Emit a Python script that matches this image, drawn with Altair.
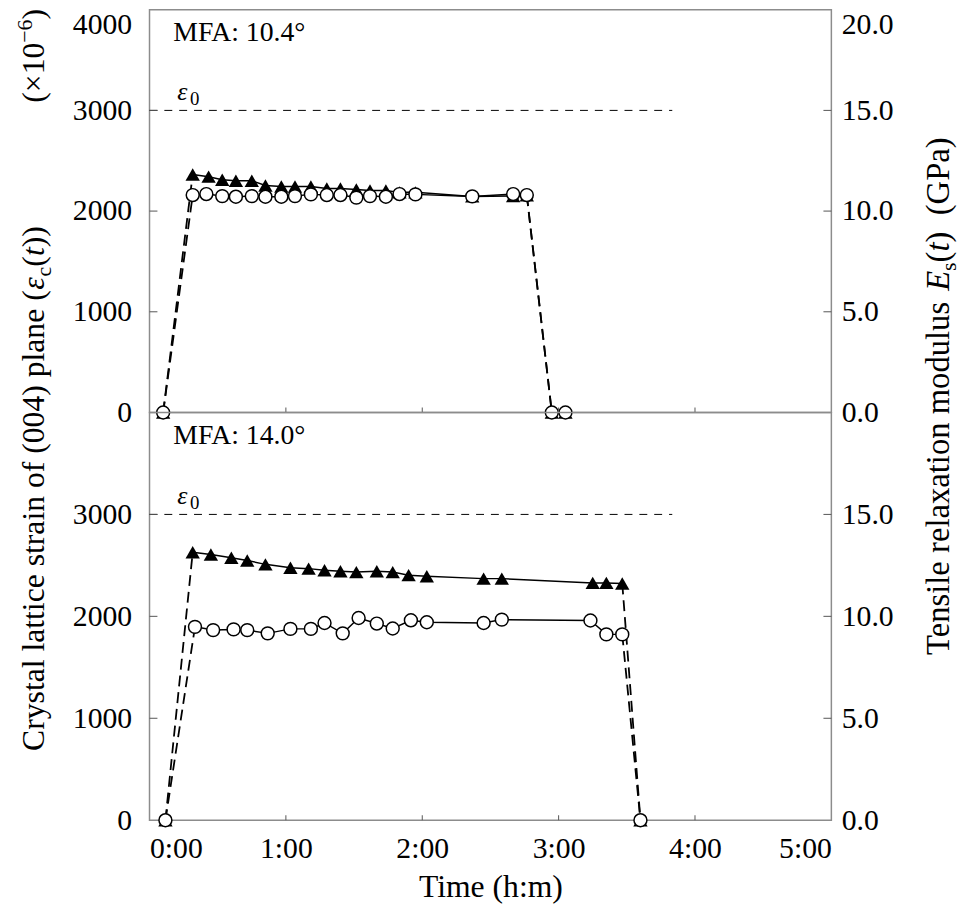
import altair as alt
import pandas as pd

FONT = "Liberation Serif"

# ---------------- data (time in minutes) ----------------
# upper panel, MFA 10.4 deg
top_tri_t = [19, 26, 32, 38, 45, 51, 58, 64, 71, 78, 84, 91, 97, 104, 110, 117, 142, 160, 166]
top_tri_E = [11.82, 11.71, 11.56, 11.51, 11.51, 11.27, 11.22, 11.22, 11.22, 11.12, 11.12,
             11.07, 11.02, 11.02, 10.93, 10.93, 10.73, 10.75, 10.78]          # GPa
top_cir_t = [19, 25, 32, 38, 45, 51, 58, 64, 71, 78, 84, 91, 97, 104, 110, 117, 142, 160, 166]
top_cir_s = [2159, 2169, 2149, 2143, 2149, 2143, 2143, 2149, 2166, 2159, 2159,
             2134, 2149, 2143, 2169, 2166, 2146, 2169, 2159]                    # x10^-6
top_zero_t = [6, 177, 183]

# lower panel, MFA 14.0 deg
bot_tri_t = [19, 27, 36, 43, 51, 62, 70, 77, 84, 91, 100, 107, 114, 122, 147, 155, 195, 201, 208]
bot_tri_E = [13.14, 13.03, 12.87, 12.74, 12.55, 12.38, 12.34, 12.26, 12.21, 12.17, 12.21,
             12.17, 12.02, 11.97, 11.85, 11.85, 11.64, 11.64, 11.61]
bot_cir_t = [20, 28, 37, 43, 52, 62, 71, 77, 85, 92, 100, 107, 115, 122, 147, 155, 194, 201, 208]
bot_cir_s = [1897, 1865, 1872, 1865, 1833, 1877, 1877, 1935, 1833, 1984, 1929,
             1881, 1961, 1942, 1935, 1968, 1959, 1823, 1823]
bot_zero_t = [7, 216]

eps0 = 3000
eps0_end_t = 230
mfa_labels = ["MFA: 10.4°", "MFA: 14.0°"]
x_ticks = [0, 60, 120, 180, 240, 300]
inner_x_ticks = [60, 120, 180, 240]
strain_ticks_top = [0, 1000, 2000, 3000, 4000]
strain_ticks_bot = [0, 1000, 2000, 3000]
modulus_ticks_top = [0, 5, 10, 15, 20]
modulus_ticks_bot = [0, 5, 10, 15]
inner_strain_ticks = [1000, 2000, 3000]

left_title = ["Crystal lattice strain of (004) plane (", "ε", "c", "(", "t", "))", "(×10", "−6", ")"]
right_title = ["Tensile relaxation modulus", "E", "s", "(", "t", ")", "(GPa)"]

W = 689
H_TOP, H_BOT = 407, 412
FRAME = "#8c8c8c"


def xenc(bottom):
    if bottom:
        ax = alt.Axis(values=x_ticks,
                      labelExpr="floor(datum.value/60) + ':' + (datum.value % 60 < 10 ? '0' : '') + (datum.value % 60)",
                      labelFlush=True, labelFont=FONT, labelFontSize=30, labelColor="black",
                      labelPadding=14, ticks=False, tickSize=0, domain=False, grid=False,
                      title="Time (h:m)", titleFont=FONT, titleFontSize=32,
                      titleFontWeight="normal", titleColor="black", titlePadding=8)
    else:
        ax = alt.Axis(values=x_ticks, labels=False, ticks=False, tickSize=0,
                      domain=False, grid=False, title=None)
    return alt.X("t:Q", scale=alt.Scale(domain=[0, 300], nice=False, zero=False), axis=ax)


def yleft(values, top):
    kw = {}
    if top:
        kw["labelBaseline"] = {"condition": {"test": "datum.value >= 4000", "value": "top"},
                               "value": "middle"}
    ax = alt.Axis(orient="left", values=values, format="d", labelFont=FONT, labelFontSize=30,
                  labelColor="black", labelPadding=18, ticks=False, tickSize=0,
                  domain=False, grid=False, title=None, **kw)
    return alt.Y("v:Q", scale=alt.Scale(domain=[0, 4000], nice=False), axis=ax)


def yright(values, top):
    kw = {}
    if top:
        kw["labelBaseline"] = {"condition": {"test": "datum.value >= 20", "value": "top"},
                               "value": "middle"}
    ax = alt.Axis(orient="right", values=values, format=".1f", labelFont=FONT, labelFontSize=30,
                  labelColor="black", labelPadding=10, ticks=False, tickSize=0,
                  domain=False, grid=False, title=None, **kw)
    return alt.Y("v:Q", scale=alt.Scale(domain=[0, 20], nice=False), axis=ax)


def seg(text, x, y, size, style="normal"):
    return alt.Chart(pd.DataFrame({"s": [text]})).mark_text(
        angle=270, align="left", baseline="alphabetic", font=FONT, fontSize=size,
        fontStyle=style, color="black").encode(x=alt.value(x), y=alt.value(y), text="s:N")


def panel(tri_t, tri_E, cir_t, cir_s, zero_t, mfa, top, H):
    bottom = not top
    X = xenc(bottom)
    yR = yright(modulus_ticks_top if top else modulus_ticks_bot, top)
    yL = yleft(strain_ticks_top if top else strain_ticks_bot, top)
    t_start, t_end = zero_t[0], zero_t[1]

    tri_line = pd.DataFrame({"t": tri_t, "v": tri_E})
    tri_ramp = pd.DataFrame({"t": [t_start, tri_t[0], tri_t[-1], t_end],
                             "v": [0, tri_E[0], tri_E[-1], 0], "seg": ["a", "a", "b", "b"]})
    tri_pts = pd.DataFrame({"t": tri_t + zero_t, "v": tri_E + [0] * len(zero_t)})

    cir_line = pd.DataFrame({"t": cir_t, "v": cir_s})
    cir_ramp = pd.DataFrame({"t": [t_start, cir_t[0], cir_t[-1], t_end],
                             "v": [0, cir_s[0], cir_s[-1], 0], "seg": ["a", "a", "b", "b"]})
    cir_pts = pd.DataFrame({"t": cir_t + zero_t, "v": cir_s + [0] * len(zero_t)})

    R = alt.layer(
        alt.Chart(tri_ramp).mark_line(color="black", strokeWidth=1.8, strokeDash=[11, 6]).encode(
            x=X, y=yR, detail="seg:N"),
        alt.Chart(tri_line).mark_line(color="black", strokeWidth=1.5).encode(x=X, y=yR),
        alt.Chart(tri_pts).mark_point(shape="triangle-up", filled=True, color="black",
                                      size=210, opacity=1).encode(x=X, y=yR),
    )

    layers = [
        alt.Chart(pd.DataFrame({"t": [0], "t2": [eps0_end_t], "v": [eps0]})).mark_rule(
            color="black", strokeWidth=1, strokeDash=[8, 7]).encode(x=X, x2="t2:Q", y=yL),
        alt.Chart(cir_ramp).mark_line(color="black", strokeWidth=1.8, strokeDash=[11, 6]).encode(
            x=X, y=yL, detail="seg:N"),
        alt.Chart(cir_line).mark_line(color="black", strokeWidth=1.5).encode(x=X, y=yL),
        alt.Chart(cir_pts).mark_point(shape="circle", filled=True, fill="white", stroke="black",
                                      strokeWidth=1.5, size=170, opacity=1).encode(x=X, y=yL),
        # inward ticks
        alt.Chart(pd.DataFrame({"t": inner_x_ticks})).mark_rule(color="#555", strokeWidth=1).encode(
            x=X, y=alt.value(H), y2=alt.value(H - 5)),
        alt.Chart(pd.DataFrame({"v": inner_strain_ticks})).mark_rule(color="#555", strokeWidth=1).encode(
            y=yL, x=alt.value(0), x2=alt.value(8)),
        alt.Chart(pd.DataFrame({"v": inner_strain_ticks})).mark_rule(color="#555", strokeWidth=1).encode(
            y=yL, x=alt.value(W - 8), x2=alt.value(W)),
        # annotations
        alt.Chart(pd.DataFrame({"s": [mfa]})).mark_text(
            align="left", baseline="alphabetic", font=FONT, fontSize=28, color="black").encode(
            x=alt.value(24), y=alt.value(32), text="s:N"),
        alt.Chart(pd.DataFrame({"s": ["ε"], "v": [eps0]})).mark_text(
            align="left", baseline="alphabetic", font=FONT, fontSize=26, fontStyle="italic",
            color="black", dy=-11).encode(x=alt.value(28), y=yL, text="s:N"),
        alt.Chart(pd.DataFrame({"s": ["0"], "v": [eps0]})).mark_text(
            align="left", baseline="alphabetic", font=FONT, fontSize=19,
            color="black", dy=-5).encode(x=alt.value(41), y=yL, text="s:N"),
    ]

    if top:
        bx, sub, sup = -107, -100, -119
        layers += [
            seg(left_title[0], bx, 749, 32),
            seg(left_title[1], bx, 283, 32, "italic"),
            seg(left_title[2], sub, 269.5, 22),
            seg(left_title[3], bx, 259.7, 32),
            seg(left_title[4], bx, 249, 32, "italic"),
            seg(left_title[5], bx, 240.1, 32),
            seg(left_title[6], bx, 94, 32),
            seg(left_title[7], sup, 33.4, 22),
            seg(left_title[8], bx, 10, 32),
        ]
        rx, rsub = 808, 815
        layers += [
            seg(right_title[0], rx, 652, 33),
            seg(right_title[1], rx, 284, 33, "italic"),
            seg(right_title[2], rsub, 264, 22),
            seg(right_title[3], rx, 255.4, 33),
            seg(right_title[4], rx, 244.4, 33, "italic"),
            seg(right_title[5], rx, 235.2, 33),
            seg(right_title[6], rx, 207.7, 33),
        ]

    L = alt.layer(*layers)
    return alt.layer(R, L).resolve_scale(y="independent").properties(width=W, height=H)


top_panel = panel(top_tri_t, top_tri_E, top_cir_t, top_cir_s, top_zero_t, mfa_labels[0], True, H_TOP)
bot_panel = panel(bot_tri_t, bot_tri_E, bot_cir_t, bot_cir_s, bot_zero_t, mfa_labels[1], False, H_BOT)

chart = alt.vconcat(top_panel, bot_panel, spacing=0, bounds="flush").properties(
    padding={"left": 5, "top": -5, "right": 0, "bottom": 0}, background="white"
).configure_view(stroke=FRAME, strokeWidth=1.5)

chart.save("out.html", embed_options={"renderer": "svg", "actions": False})
